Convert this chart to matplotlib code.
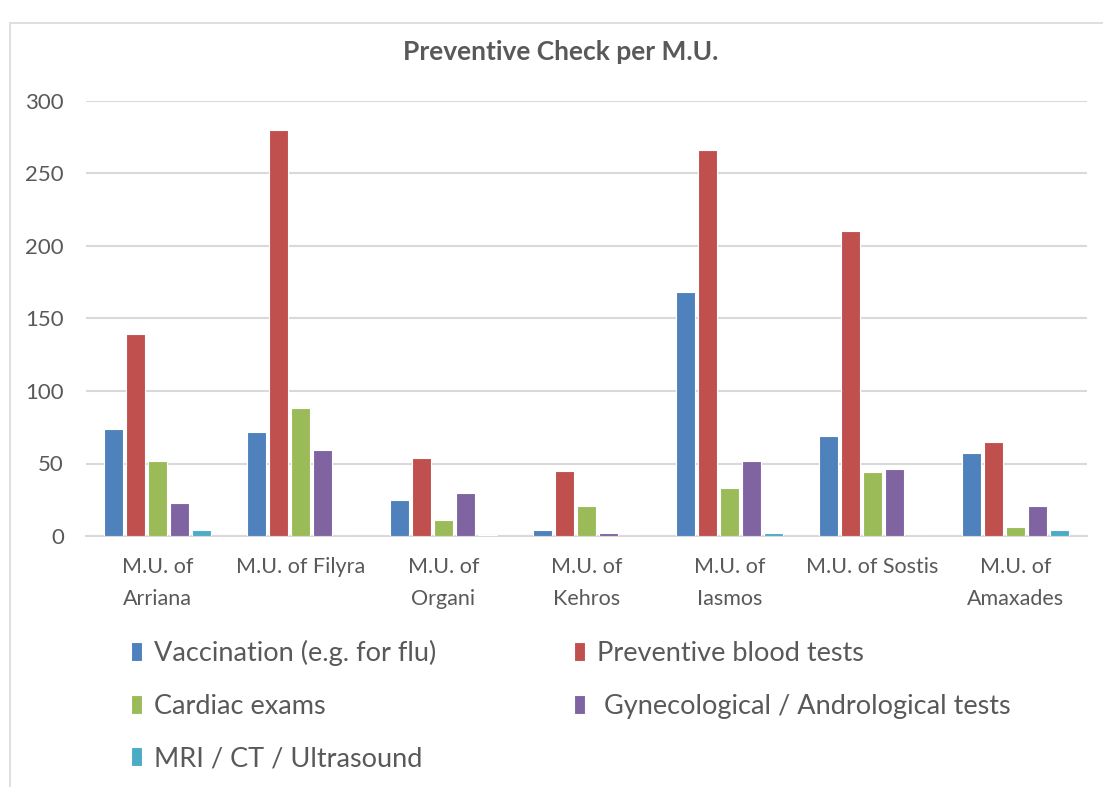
import numpy as np
import matplotlib.pyplot as plt
from matplotlib.patches import Rectangle

plt.rcParams['font.family'] = ['Lato', 'DejaVu Sans']

units = ["M.U. of\nArriana", "M.U. of Filyra", "M.U. of\nOrgani", "M.U. of\nKehros",
         "M.U. of\nIasmos", "M.U. of Sostis", "M.U. of\nAmaxades"]
vaccination = [74, 72, 25, 4, 168, 69, 57]
blood_tests = [139, 280, 54, 45, 266, 210, 65]
cardiac = [52, 88, 11, 21, 33, 44, 6]
gyneco = [23, 59, 30, 2, 52, 46, 21]
imaging = [4, 0, 1, 0, 2, 0, 4]
series_names = ["Vaccination (e.g. for flu)", "Preventive blood tests", "Cardiac exams",
                " Gynecological / Andrological tests", "MRI / CT / Ultrasound"]
yticks = [0, 50, 100, 150, 200, 250, 300]

colors = ["#4F81BD", "#C0504D", "#9BBB59", "#8064A2", "#4BACC6"]
grey = "#595959"

fig = plt.figure(figsize=(11.03, 7.87), dpi=100)
# chart frame
fig.patches.append(Rectangle((10/1103, -0.1), 1.2, (787-23)/787 + 0.1, transform=fig.transFigure,
                             fill=False, edgecolor="#D9D9D9", linewidth=1.2))
ax = fig.add_axes([86/1103, 1-536/787, (1087-86)/1103, (536-101)/787])

x = np.arange(len(units))
pitch = 0.154
width = 0.128
data = [vaccination, blood_tests, cardiac, gyneco, imaging]
bars = []
for i, vals in enumerate(data):
    b = ax.bar(x + (i-2)*pitch, vals, width, color=colors[i], edgecolor="white",
               linewidth=0.8, zorder=3, label=series_names[i])
    bars.append(b)

ax.set_xlim(-0.5, len(units)-0.5)
ax.set_ylim(0, 300)
ax.set_yticks(yticks)
ax.set_xticks(x)
ax.set_xticklabels(units, fontsize=15.5, color=grey, linespacing=1.75)
ax.tick_params(axis='y', labelsize=16, labelcolor=grey, length=0, pad=16)
ax.tick_params(axis='x', length=0, pad=15)
ax.grid(axis='y', color="#D9D9D9", linewidth=1.5, zorder=0)
for s in ["top", "right", "left"]:
    ax.spines[s].set_visible(False)
ax.spines["bottom"].set_color("#D9D9D9")
ax.spines["bottom"].set_linewidth(1.5)

fig.text(561/1103, 1-52/787, "Preventive Check per M.U.", ha="center", va="center",
         fontsize=19, fontweight="bold", color=grey)

order = [0, 2, 4, 1, 3]
leg = fig.legend([bars[i] for i in order], [series_names[i] for i in order], ncol=2,
                 loc="upper left", bbox_to_anchor=(131/1103, 1-640/787), frameon=False,
                 borderpad=0, borderaxespad=0,
                 fontsize=19.5, handlelength=0.4, handleheight=0.7, handletextpad=0.45,
                 columnspacing=5.1, labelspacing=1.02, labelcolor=grey)

plt.savefig("out.png", dpi=100)
